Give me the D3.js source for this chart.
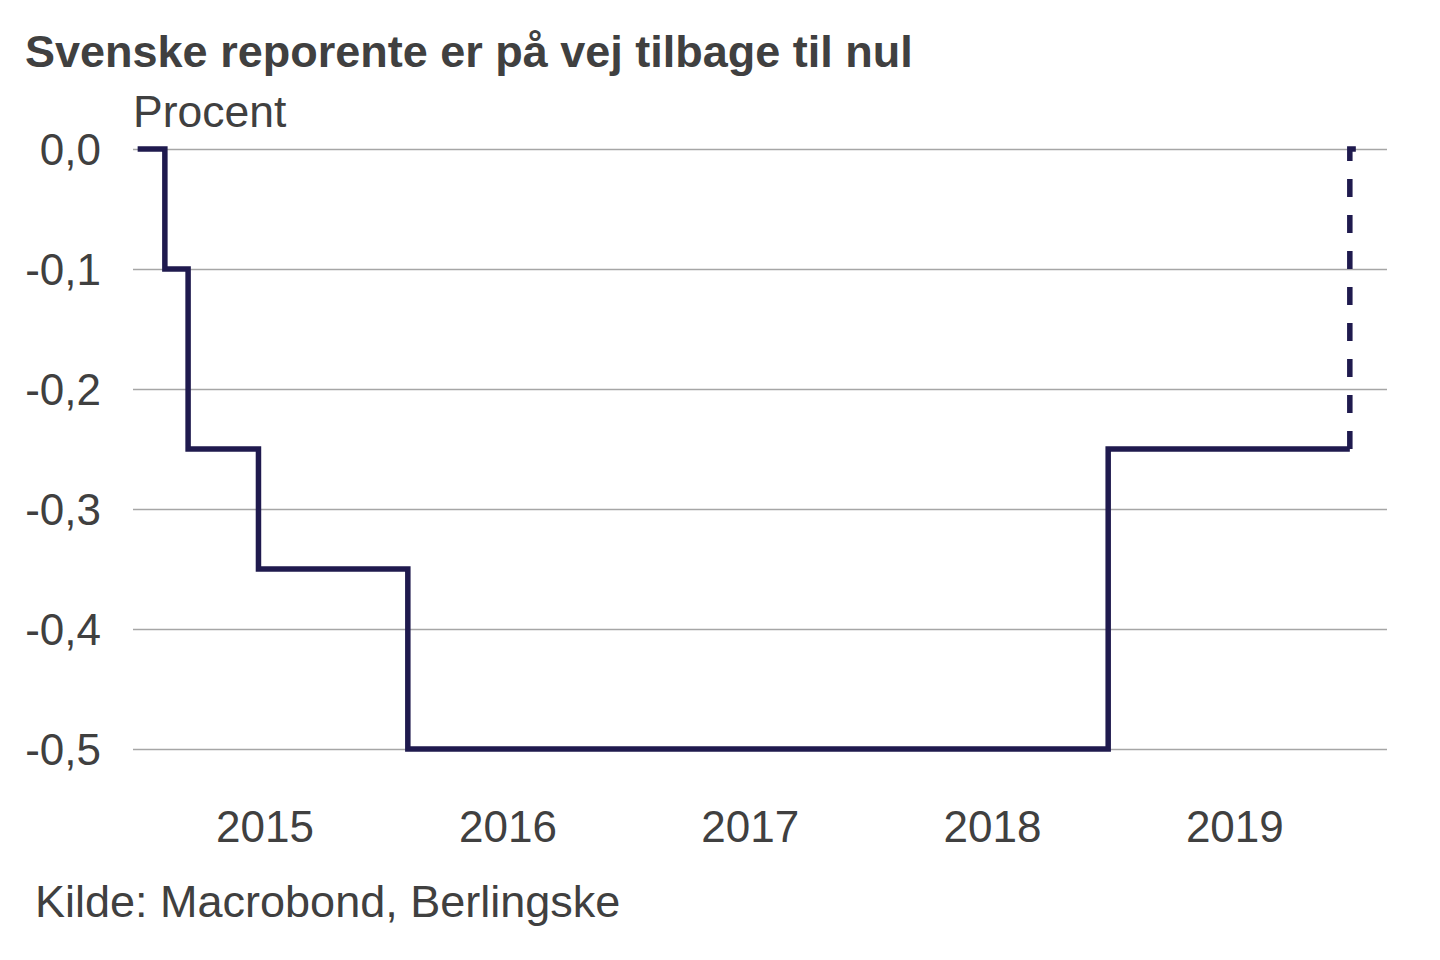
<!DOCTYPE html>
<html>
<head>
<meta charset="utf-8">
<script src="https://cdn.jsdelivr.net/npm/d3@7"></script>
<style>
  body { margin: 0; background: #fff; }
  svg { font-family: "Liberation Sans", Arial, sans-serif; }
</style>
</head>
<body>
<svg id="chart" width="1440" height="960"></svg>
<script>
// repo rate, step changes (date the new level applies)
var rateDates = ["2015-01-08", "2015-02-18", "2015-03-25", "2015-07-09", "2016-02-19", "2019-01-09", "2020-01-08"];
var rateValues = [0, -0.1, -0.25, -0.35, -0.5, -0.25, -0.25];

// expected move back to zero
var forecastDates = ["2020-01-08", "2020-01-08", "2020-01-21"];
var forecastValues = [-0.25, 0, 0];

var yTicks = [0, -0.1, -0.2, -0.3, -0.4, -0.5];
var yearLabels = [2015, 2016, 2017, 2018, 2019];

var parse = d3.timeParse("%Y-%m-%d");
var textColor = "#404040";
var lineColor = "#1f1a4e";

var svg = d3.select("#chart");
var plotLeft = 133, plotRight = 1387, plotTop = 149, plotBottom = 749;

var x = d3.scaleTime()
  .domain([parse("2015-01-01"), parse("2020-03-04")])
  .range([plotLeft, plotRight]);

var y = d3.scaleLinear()
  .domain([-0.5, 0])
  .range([plotBottom, plotTop]);

// gridlines + y labels
var yAxis = d3.axisLeft(y)
  .tickValues(yTicks)
  .tickSize(-(plotRight - plotLeft))
  .tickPadding(32)
  .tickFormat(function(d) { return d.toFixed(1).replace(".", ","); });

var gy = svg.append("g")
  .attr("transform", "translate(" + plotLeft + ",0)")
  .call(yAxis);
gy.select(".domain").remove();
gy.selectAll(".tick line").attr("stroke", "#a6a6a6").attr("stroke-width", 1.5);
gy.selectAll(".tick text")
  .attr("fill", textColor)
  .attr("font-size", 44)
  .attr("dy", "0.36em");

// year labels, around mid year
var xAxis = d3.axisBottom(x)
  .tickValues(yearLabels.map(function(yr) { return new Date(yr, 6, 18); }))
  .tickSize(0)
  .tickPadding(62)
  .tickFormat(d3.timeFormat("%Y"));

var gx = svg.append("g")
  .attr("transform", "translate(0," + plotBottom + ")")
  .call(xAxis);
gx.select(".domain").remove();
gx.selectAll(".tick text")
  .attr("fill", textColor)
  .attr("font-size", 44);

var rate = rateDates.map(function(d, i) { return { date: parse(d), value: rateValues[i] }; });
var forecast = forecastDates.map(function(d, i) { return { date: parse(d), value: forecastValues[i] }; });

var stepLine = d3.line()
  .x(function(d) { return x(d.date); })
  .y(function(d) { return y(d.value); })
  .curve(d3.curveStepAfter);

var plainLine = d3.line()
  .x(function(d) { return x(d.date); })
  .y(function(d) { return y(d.value); });

svg.append("path")
  .datum(rate)
  .attr("d", stepLine)
  .attr("fill", "none")
  .attr("stroke", lineColor)
  .attr("stroke-width", 5.5)
  .attr("stroke-linejoin", "miter");

svg.append("path")
  .datum(forecast)
  .attr("d", plainLine)
  .attr("fill", "none")
  .attr("stroke", lineColor)
  .attr("stroke-width", 5.5)
  .attr("stroke-dasharray", "18,18");

// texts
svg.append("text")
  .attr("x", 25).attr("y", 67)
  .attr("font-size", 45).attr("font-weight", "bold")
  .attr("fill", textColor)
  .text("Svenske reporente er på vej tilbage til nul");

svg.append("text")
  .attr("x", 133).attr("y", 127)
  .attr("font-size", 44.5)
  .attr("fill", textColor)
  .text("Procent");

svg.append("text")
  .attr("x", 35).attr("y", 917)
  .attr("font-size", 45)
  .attr("fill", textColor)
  .text("Kilde: Macrobond, Berlingske");
</script>
</body>
</html>
